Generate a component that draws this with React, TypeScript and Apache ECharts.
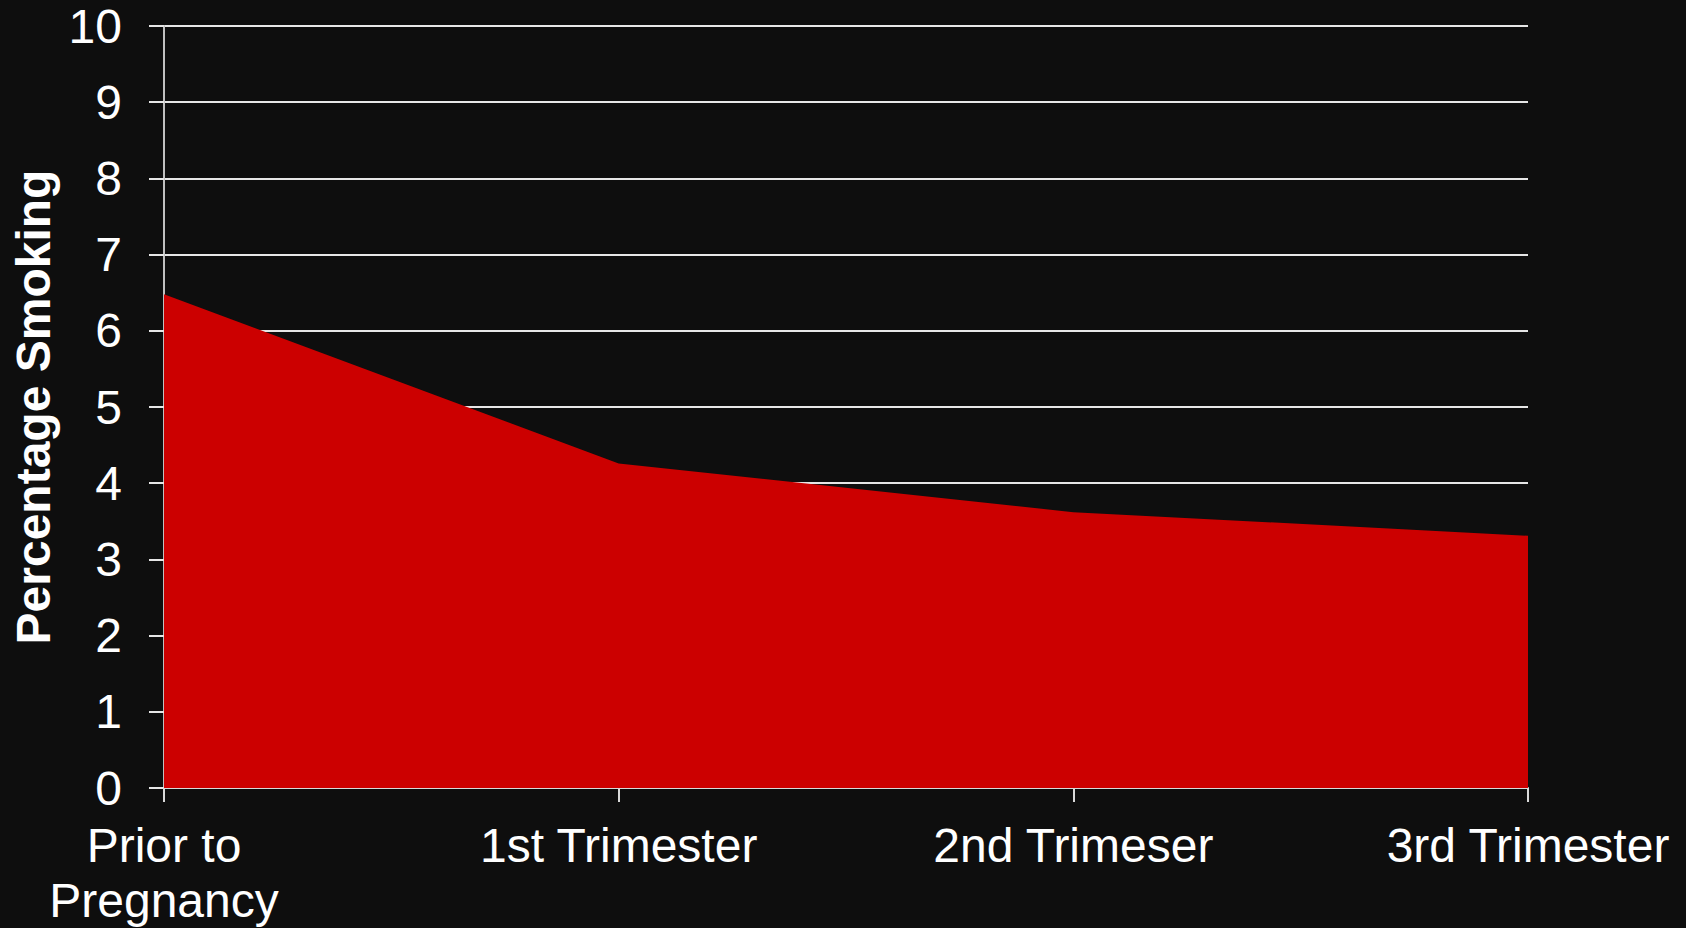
import React, { useEffect, useRef } from "react";
import * as echarts from "echarts";

const categories = ["Prior to\nPregnancy", "1st Trimester", "2nd Trimeser", "3rd Trimester"];
const smokingValues = [6.48, 4.26, 3.62, 3.31];
const yTicks = { min: 0, max: 10, interval: 1 };
const yAxisTitle = "Percentage Smoking";

const FONT = "'Liberation Sans', Arial, Helvetica, sans-serif";

export default function App() {
  const ref = useRef<HTMLDivElement>(null);
  useEffect(() => {
    if (!ref.current) return;
    const chart = echarts.init(ref.current, null, { renderer: "svg" });
    chart.setOption({
      animation: false,
      backgroundColor: "#0e0e0e",
      grid: { left: 164, right: 158, top: 26, bottom: 135, containLabel: false },
      xAxis: {
        type: "category",
        data: categories,
        boundaryGap: false,
        axisLine: { show: true, lineStyle: { color: "#d9d9d9", width: 2 } },
        axisTick: { show: true, length: 14, lineStyle: { color: "#d9d9d9", width: 2 } },
        axisLabel: {
          color: "#ffffff",
          fontFamily: FONT,
          fontSize: 48,
          lineHeight: 55,
          margin: 30,
          interval: 0,
        },
        splitLine: { show: false },
      },
      yAxis: {
        type: "value",
        min: yTicks.min,
        max: yTicks.max,
        interval: yTicks.interval,
        name: yAxisTitle,
        nameLocation: "middle",
        nameGap: 100,
        nameTextStyle: {
          color: "#ffffff",
          fontFamily: FONT,
          fontSize: 48,
          fontWeight: "bold",
        },
        axisLine: { show: true, lineStyle: { color: "#bfbfbf", width: 2 } },
        axisTick: { show: true, length: 15, lineStyle: { color: "#e6e6e6", width: 2 } },
        axisLabel: {
          color: "#ffffff",
          fontFamily: FONT,
          fontSize: 48,
          margin: 42,
        },
        splitLine: { show: true, lineStyle: { color: "#e6e6e6", width: 2 } },
      },
      series: [
        {
          type: "line",
          data: smokingValues,
          symbol: "none",
          lineStyle: { width: 0, color: "#cc0000" },
          areaStyle: { color: "#cc0000", opacity: 1 },
          itemStyle: { color: "#cc0000" },
        },
      ],
    });
    return () => chart.dispose();
  }, []);
  return (
    <div
      ref={ref}
      style={{ position: "fixed", left: 0, top: 0, width: 1686, height: 928 }}
    />
  );
}
